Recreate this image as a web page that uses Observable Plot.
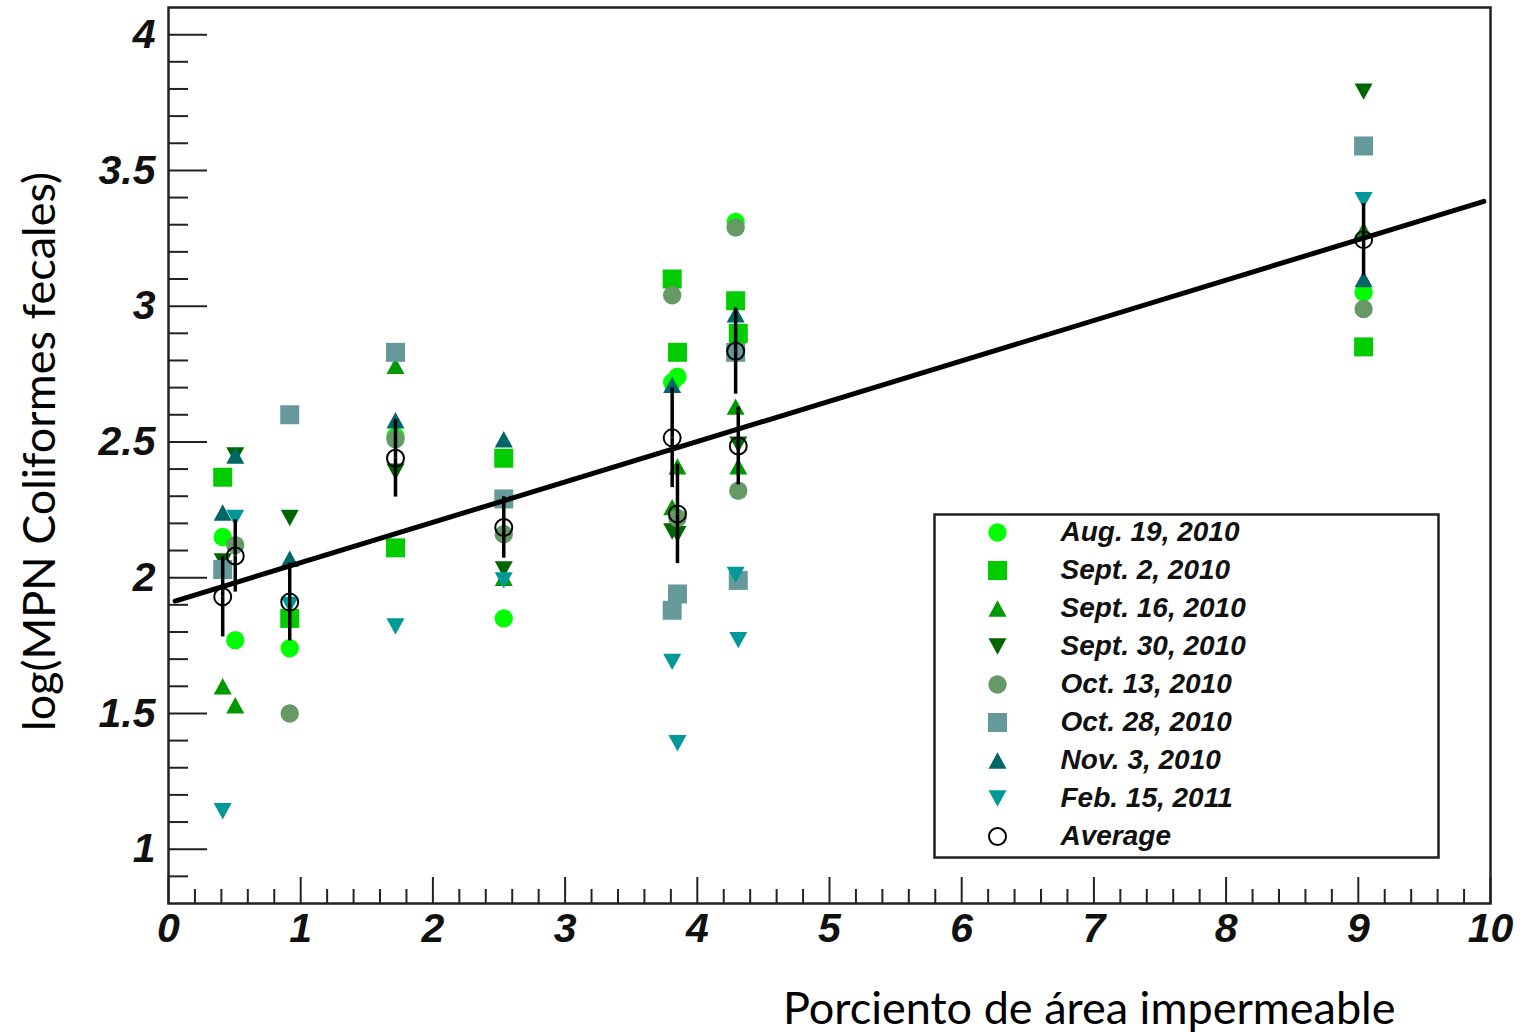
<!DOCTYPE html>
<html><head><meta charset="utf-8">
<script src="https://cdn.jsdelivr.net/npm/d3@7"></script>
<script src="https://cdn.jsdelivr.net/npm/@observablehq/plot@0.6"></script>
<style>
html,body{margin:0;padding:0;background:#fff;overflow:hidden;}
#wrap{position:relative;width:1523px;height:1032px;}
#legend{position:absolute;left:934px;top:514px;}
</style></head><body><div id="wrap"></div><div id="legend"></div>
<script>
// ---------- data ----------
const seriesNames = ["Aug. 19, 2010","Sept. 2, 2010","Sept. 16, 2010","Sept. 30, 2010","Oct. 13, 2010","Oct. 28, 2010","Nov. 3, 2010","Feb. 15, 2011"];
const seriesColors = ["#00ff00","#00cc00","#009900","#006600","#669966","#669999","#006666","#009999"];
// % impermeable area of each sampling station
const stationX = [0.41, 0.505, 0.917, 1.717, 2.536, 3.81, 3.85, 4.29, 4.31, 9.04];
// log(MPN) per sampling date (null = not visible / missing)
const aug19  = [2.15, 1.77, 1.74, 2.52, 1.85, 2.72, 2.74, 3.31, 2.88, 3.05];
const sept2  = [2.37, null, 1.85, 2.11, 2.44, 3.10, 2.83, 3.02, 2.90, 2.85];
const sept16 = [1.60, 1.53, null, 2.78, 2.00, 2.26, 2.41, 2.63, 2.41, 3.28];
const sept30 = [2.06, 2.45, 2.22, 2.39, 2.03, 2.17, 2.16, null, 2.49, 3.79];
const oct13  = [null, 2.12, 1.50, 2.51, 2.16, 3.04, 2.22, 3.29, 2.32, 2.99];
const oct28  = [2.03, null, 2.60, 2.83, 2.29, 1.88, 1.94, 2.83, 1.99, 3.59];
const nov3   = [2.24, 2.45, 2.07, 2.58, 2.51, 2.71, null, 2.97, null, 3.10];
const feb15  = [1.14, 2.22, 1.90, 1.82, 1.99, 1.69, 1.39, 2.01, 1.77, 3.39];
// station averages and their errors
const avgY   = [1.93, 2.08, 1.91, 2.44, 2.185, 2.515, 2.235, 2.834, 2.485, 3.245];
const avgErr = [0.115, 0.10, 0.11, 0.11, 0.08, 0.15, 0.15, 0.125, 0.11, 0.10];
// linear fit end points
const fitX = [0.05, 9.95];
const fitY = [1.914, 3.386];
// axis ticks
const xMajorTicks = [0,1,2,3,4,5,6,7,8,9,10];
const yMajorTicks = [1,1.5,2,2.5,3,3.5,4];
const xTitle = "Porciento de área impermeable";
const yTitle = "log(MPN Coliformes fecales)";
const avgLabel = "Average";

// ---------- symbols ----------
const symCircle = {draw(c, size){const s=Math.sqrt(size/Math.PI), r=0.92*s; c.moveTo(r,0); c.arc(0,0,r,0,2*Math.PI);}};
const symSquare = {draw(c, size){const s=Math.sqrt(size/Math.PI), h=0.95*s; c.rect(-h,-h,2*h,2*h);}};
const symTriUp = {draw(c, size){const s=Math.sqrt(size/Math.PI), w=0.9*s, h=0.82*s; c.moveTo(0,-h); c.lineTo(w,h); c.lineTo(-w,h); c.closePath();}};
const symTriDown = {draw(c, size){const s=Math.sqrt(size/Math.PI), w=0.9*s, h=0.82*s; c.moveTo(0,h); c.lineTo(w,-h); c.lineTo(-w,-h); c.closePath();}};
const seriesSymbols = [symCircle, symSquare, symTriUp, symTriDown, symCircle, symSquare, symTriUp, symTriDown];
const seriesValues = [aug19, sept2, sept16, sept30, oct13, oct28, nov3, feb15];

// ---------- layout ----------
const W = 1523, H = 1032, mL = 168, mR = 33, mT = 7, mB = 129;
const frameW = W - mL - mR, frameH = H - mT - mB;
const yMinor = d3.range(9, 41).map(v => v / 10).filter(v => !yMajorTicks.some(t => Math.abs(t - v) < 1e-9));
const xMinor = d3.range(0, 51).map(v => v / 5).filter(v => !xMajorTicks.some(t => Math.abs(t - v) < 1e-9));
const tickFont = {fontSize: 41, fontWeight: "bold", fontStyle: "italic", fontFamily: "Liberation Sans, Arial, sans-serif", fill: "#111"};

const marks = [];
// tick marks (inside frame)
marks.push(Plot.ruleY(yMajorTicks, {y: d => d, insetRight: frameW - 39, stroke: "#222", strokeWidth: 2}));
marks.push(Plot.ruleY(yMinor, {y: d => d, insetRight: frameW - 20, stroke: "#222", strokeWidth: 2}));
marks.push(Plot.ruleX(xMajorTicks, {x: d => d, insetTop: frameH - 26, stroke: "#222", strokeWidth: 2}));
marks.push(Plot.ruleX(xMinor, {x: d => d, insetTop: frameH - 14, stroke: "#222", strokeWidth: 2}));
marks.push(Plot.frame({stroke: "#222", strokeWidth: 2.5}));
marks.push(Plot.axisY(yMajorTicks, {tickSize: 0, tickPadding: 13, label: null, tickFormat: d => String(d), ...tickFont}));
marks.push(Plot.axisX(xMajorTicks, {tickSize: 0, tickPadding: 9, label: null, tickFormat: d => String(d), ...tickFont}));

// data points per date
seriesValues.forEach((vals, i) => {
  const rec = stationX.map((x, j) => ({x, y: vals[j]})).filter(d => d.y != null);
  marks.push(Plot.dot(rec, {x: "x", y: "y", r: 10, symbol: seriesSymbols[i], fill: seriesColors[i], stroke: "none"}));
});

// averages with error bars
const avgData = stationX.map((x, j) => ({x, y: avgY[j], e: avgErr[j]}));
marks.push(Plot.ruleX(avgData, {x: "x", y1: "y", y2: d => d.y + d.e, insetBottom: 9, stroke: "#000", strokeWidth: 3.5}));
marks.push(Plot.ruleX(avgData, {x: "x", y1: d => d.y - d.e, y2: "y", insetTop: 9, stroke: "#000", strokeWidth: 3.5}));
marks.push(Plot.dot(avgData, {x: "x", y: "y", r: 8.5, fill: "none", stroke: "#000", strokeWidth: 2}));

// fit line
marks.push(Plot.line(fitX.map((x, i) => ({x, y: fitY[i]})), {x: "x", y: "y", stroke: "#000", strokeWidth: 5}));

// axis titles
marks.push(Plot.text([yTitle], {frameAnchor: "left", textAnchor: "middle", rotate: -90, dx: -128, dy: -4, fontSize: 45, fontFamily: "Lato, sans-serif", fill: "#000"}));
marks.push(Plot.text([xTitle], {frameAnchor: "bottom-right", textAnchor: "end", dx: -95, dy: 120, fontSize: 45, fontFamily: "Lato, sans-serif", fill: "#000"}));

const plot = Plot.plot({
  width: W, height: H, marginLeft: mL, marginRight: mR, marginTop: mT, marginBottom: mB,
  x: {domain: [0, 10]},
  y: {domain: [0.8, 4.1]},
  style: {background: "#fff", overflow: "visible"},
  marks
});
document.getElementById("wrap").appendChild(plot);

// ---------- legend ----------
const legendLabels = [...seriesNames, avgLabel];
const legendMarks = [Plot.frame({stroke: "#222", strokeWidth: 2.5})];
legendLabels.forEach((lab, i) => {
  const isAvg = i === seriesNames.length;
  legendMarks.push(Plot.dot([lab], {y: d => d, frameAnchor: "left", dx: 63, r: isAvg ? 8.5 : 10,
    symbol: isAvg ? "circle" : seriesSymbols[i],
    fill: isAvg ? "none" : seriesColors[i], stroke: isAvg ? "#000" : "none", strokeWidth: 2}));
});
legendMarks.push(Plot.text(legendLabels, {y: d => d, text: d => d, frameAnchor: "left", dx: 126, textAnchor: "start",
  fontSize: 28, fontWeight: "bold", fontStyle: "italic", fontFamily: "Liberation Sans, Arial, sans-serif", fill: "#111"}));
const legend = Plot.plot({
  width: 504, height: 343, margin: 0,
  y: {type: "point", domain: legendLabels, range: [18, 322], padding: 0, axis: null},
  style: {background: "#fff", overflow: "visible"},
  marks: legendMarks
});
document.getElementById("legend").appendChild(legend);
</script></body></html>
